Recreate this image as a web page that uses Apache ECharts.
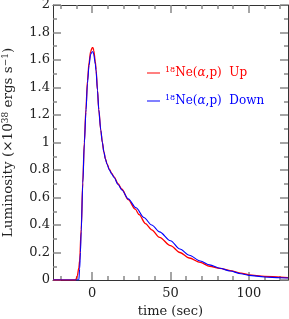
<!DOCTYPE html>
<html>
<head>
<meta charset="utf-8">
<script src="https://cdn.jsdelivr.net/npm/echarts@6/dist/echarts.min.js"></script>
<style>html,body{margin:0;padding:0;background:#fff;}#c{width:289px;height:319px;}</style>
</head>
<body>
<div id="c"></div>
<script>
// time (sec) and luminosity (1e38 erg/s)
const upTime = [-25, -10.5, -9.5, -8.5, -8, -7, -6, -5, -4, -3, -2, -1, 0, 0.5, 1, 2, 2.5, 3.4, 4.2, 5.5, 6.5, 7.5, 8.5, 9.5, 11, 12.5, 14, 16.5, 19, 23, 27.5, 30, 34, 38, 43, 50, 56, 62, 69, 75, 81.5, 88, 95, 100, 110, 120, 125];
const upLum  = [0, 0, 0.03, 0.09, 0.14, 0.37, 0.71, 1.0, 1.24, 1.45, 1.58, 1.66, 1.69, 1.69, 1.67, 1.59, 1.53, 1.38, 1.24, 1.09, 1.0, 0.93, 0.88, 0.845, 0.805, 0.775, 0.75, 0.70, 0.66, 0.585, 0.515, 0.475, 0.41, 0.365, 0.31, 0.25, 0.20, 0.16, 0.128, 0.10, 0.085, 0.068, 0.05, 0.038, 0.027, 0.02, 0.018];
const downTime = [-25, -8.5, -8, -7.5, -7, -6, -5, -4, -3, -2, -1, 0, 0.5, 1, 2, 2.5, 3.4, 4.2, 5.5, 6.5, 7.5, 8.5, 9.5, 11, 12.5, 14, 16.5, 19, 23, 28, 33, 38, 43, 50, 56, 62, 69, 75, 81.5, 88, 95, 100, 110, 120, 125];
const downLum  = [0, 0, 0.08, 0.2, 0.35, 0.70, 0.99, 1.22, 1.43, 1.56, 1.64, 1.66, 1.66, 1.64, 1.57, 1.52, 1.38, 1.24, 1.09, 1.0, 0.93, 0.878, 0.842, 0.80, 0.77, 0.745, 0.695, 0.655, 0.59, 0.525, 0.455, 0.40, 0.35, 0.285, 0.225, 0.18, 0.138, 0.11, 0.085, 0.066, 0.045, 0.034, 0.022, 0.016, 0.015];
const xMajorTicks = [0, 50, 100];
const xMinorTicks = [-20, -10, 10, 20, 30, 40, 60, 70, 80, 90, 110, 120];

const FONT = 'DejaVu Serif';
const pair = (t, v) => t.map((x, i) => [x, v[i]]);
const tickStyle = {color: '#888', width: 1.5};
const lineStyle = {color: '#333', width: 1};

function xAx(pos, ticks, len, main) {
  return {
    type: 'value', position: pos, min: -25, max: 125, gridIndex: 0,
    axisLine: {show: main, onZero: false, lineStyle: lineStyle},
    axisTick: {show: true, inside: true, length: len, customValues: ticks, lineStyle: tickStyle},
    axisLabel: {show: main && pos === 'bottom', customValues: ticks, margin: 7,
      fontFamily: FONT, fontSize: 13, color: '#222'},
    splitLine: {show: false},
    name: (main && pos === 'bottom') ? 'time (sec)' : '',
    nameLocation: 'middle', nameGap: 20,
    nameTextStyle: {fontFamily: FONT, fontSize: 13, color: '#222'}
  };
}
function yAx(pos, main) {
  return {
    type: 'value', position: pos, min: 0, max: 2, interval: 0.2,
    axisLine: {show: true, onZero: false, lineStyle: lineStyle},
    axisTick: {show: true, inside: true, length: 8, lineStyle: tickStyle},
    minorTick: {show: true, splitNumber: 2, length: 4, lineStyle: tickStyle},
    axisLabel: {show: main, margin: 3, fontFamily: FONT, fontSize: 13, color: '#222'},
    splitLine: {show: false},
    name: main ? '{t|Luminosity (×10}{s|38}{t| ergs s}{s|−1}{t|)}' : '',
    nameLocation: 'middle', nameGap: 37,
    nameTextStyle: {fontFamily: FONT, fontSize: 13.5, color: '#222',
      rich: {t: {fontFamily: FONT, fontSize: 13.5, color: '#222'},
             s: {fontFamily: FONT, fontSize: 9, color: '#222', padding: [0, 0, 6, 0]}}}
  };
}
function legendRich(color) {
  return {
    t: {fontFamily: FONT, fontSize: 12, color: color},
    i: {fontFamily: FONT, fontSize: 12, color: color, fontStyle: 'italic'},
    s: {fontFamily: FONT, fontSize: 8, color: color, padding: [0, 0, 6, 0]}
  };
}
function legendOf(name, color, top, label) {
  return {
    data: [{name: name, itemStyle: {color: color}}], left: 147, top: top, orient: 'vertical',
    icon: 'rect', itemWidth: 13, itemHeight: 1, itemGap: 0, padding: 0,
    itemStyle: {color: color, borderWidth: 0}, lineStyle: {color: color},
    formatter: () => '{s|18}{t|Ne(}{i|α}{t|,p)  ' + label + '}',
    textStyle: {rich: legendRich(color)}
  };
}

const chart = echarts.init(document.getElementById('c'), null, {renderer: 'canvas'});
chart.setOption({
  animation: false,
  backgroundColor: '#fff',
  grid: {left: 53, right: 1, top: 5, bottom: 39, containLabel: false, outerBoundsMode: 'none'},
  xAxis: [xAx('bottom', xMajorTicks, 8, true), xAx('bottom', xMinorTicks, 4, false),
          xAx('top', xMajorTicks, 8, true), xAx('top', xMinorTicks, 4, false)],
  yAxis: [yAx('left', true), yAx('right', false)],
  legend: [legendOf('up', '#ff0000', 66, 'Up'), legendOf('down', '#0000ff', 94, 'Down')],
  series: [
    {name: 'up', type: 'line', xAxisIndex: 0, yAxisIndex: 0, data: pair(upTime, upLum),
     showSymbol: false, smooth: 0.3, smoothMonotone: 'x', itemStyle: {color: '#ff0000'},
     lineStyle: {color: '#ff0000', width: 1.3}, z: 2},
    {name: 'down', type: 'line', xAxisIndex: 0, yAxisIndex: 0, data: pair(downTime, downLum),
     showSymbol: false, smooth: 0.3, smoothMonotone: 'x', itemStyle: {color: '#0000ff'},
     lineStyle: {color: '#0000ff', width: 1.1}, z: 3}
  ]
});
</script>
</body>
</html>
